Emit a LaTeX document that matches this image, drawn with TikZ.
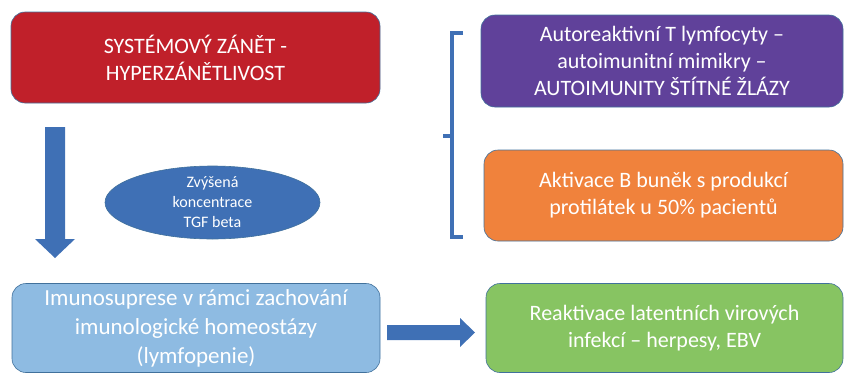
\documentclass[tikz,border=0pt]{standalone}
\usepackage{fontspec}
\setmainfont{Carlito}
\usetikzlibrary{shapes.geometric}
\definecolor{cred}{HTML}{C0202A}
\definecolor{cpurple}{HTML}{60419A}
\definecolor{corange}{HTML}{F0823C}
\definecolor{clblue}{HTML}{8EBBE2}
\definecolor{cgreen}{HTML}{87C462}
\definecolor{cblue}{HTML}{3F70B5}
\definecolor{cedge}{HTML}{41719C}
\tikzset{
  box/.style={draw=cedge, line width=0.6pt, rounded corners=14pt, text=white, align=center, inner sep=2pt},
  bigtxt/.style={font=\fontsize{22}{27}\selectfont},
  blockarrow/.style={fill=cblue, draw=none},
  bracket/.style={draw=cblue, line width=3.2pt},
}
\begin{document}
\begin{tikzpicture}[x=1pt,y=-1pt]
\useasboundingbox (0,0) rectangle (844,373);
\node[box, bigtxt, fill=cred, minimum width=369pt, minimum height=91pt] (red) at (195.5,57.5) {SYSTÉMOVÝ ZÁNĚT -\\HYPERZÁNĚTLIVOST};
\node[box, bigtxt, fill=cpurple, minimum width=362pt, minimum height=92pt] (purple) at (662,61) {Autoreaktivní T lymfocyty –\\autoimunitní mimikry –\\AUTOIMUNITY ŠTÍTNÉ ŽLÁZY};
\node[box, bigtxt, fill=corange, minimum width=359pt, minimum height=91pt] (orange) at (663.5,195.5) {Aktivace B buněk s produkcí\\protilátek u 50\% pacientů};
\node[box, fill=clblue, minimum width=368pt, minimum height=89pt, font=\fontsize{23}{29}\selectfont] (lblue) at (196,328) {Imunosuprese v rámci zachování\\imunologické homeostázy\\(lymfopenie)};
\node[box, bigtxt, fill=cgreen, minimum width=357pt, minimum height=89pt] (green) at (664.5,328) {Reaktivace latentních virových\\infekcí – herpesy, EBV};
\node[ellipse, draw=cedge, line width=0.6pt, fill=cblue, text=white, align=center, inner sep=0pt, minimum width=215pt, minimum height=73pt, font=\fontsize{16}{20}\selectfont] (tgf) at (212.5,202.5) {Zvýšená\\koncentrace\\TGF beta};
% down block arrow
\coordinate (dtip) at (55,258);
\fill[blockarrow] (45,127) -- (65,127) -- (65,239) -- (75,239) -- (dtip) -- (35,239) -- (45,239) -- cycle;
% right block arrow
\coordinate (rtip) at (475,332.5);
\fill[blockarrow] (387,325) -- (460,325) -- (460,318) -- (rtip) -- (460,347) -- (460,340) -- (387,340) -- cycle;
% bracket
\coordinate (bt) at (463,33);
\coordinate (bb) at (463,237);
\coordinate (bm) at (443,136);
\draw[bracket] (bt) -- (452,33) -- (452,237) -- (bb);
\draw[bracket] (452,136) -- (bm);
\end{tikzpicture}
\end{document}
